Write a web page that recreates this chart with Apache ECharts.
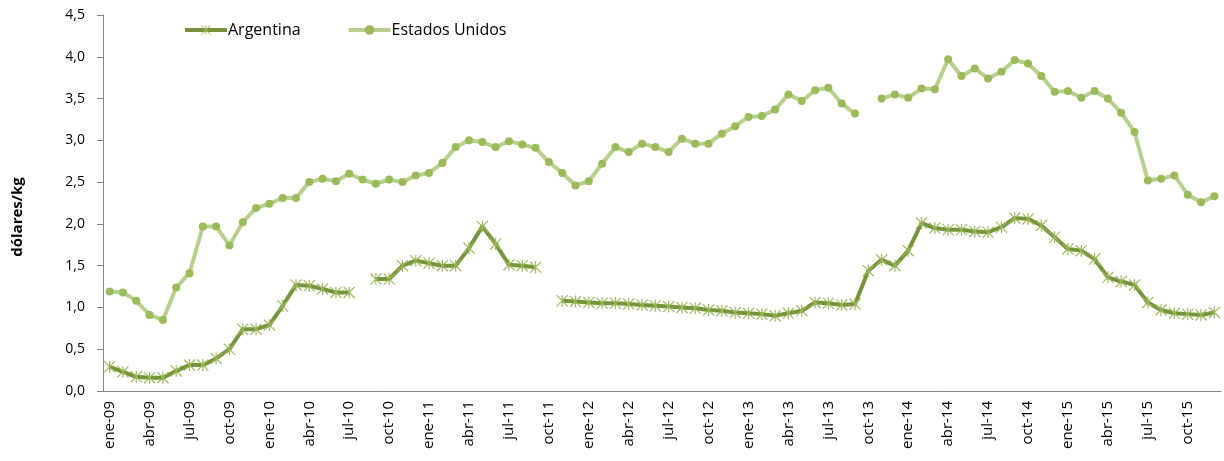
<!DOCTYPE html>
<html>
<head>
<meta charset="utf-8">
<script src="https://cdn.jsdelivr.net/npm/echarts@6/dist/echarts.min.js"></script>
<style>
  html, body { margin: 0; padding: 0; background: #fff; }
  #chart { width: 1224px; height: 461px; }
</style>
</head>
<body>
<div id="chart"></div>
<script>
const months = ['ene', 'feb', 'mar', 'abr', 'may', 'jun', 'jul', 'ago', 'sep', 'oct', 'nov', 'dic']
const years = ['09', '10', '11', '12', '13', '14', '15']

const argentina = [
  0.29, 0.23, 0.17, 0.16, 0.16, 0.24, 0.31, 0.31, 0.39, 0.50, 0.74, 0.74,
  0.79, 1.02, 1.27, 1.26, 1.22, 1.18, 1.18, null, 1.34, 1.34, 1.50, 1.56,
  1.53, 1.50, 1.50, 1.71, 1.97, 1.76, 1.51, 1.50, 1.48, null, 1.08, 1.07,
  1.06, 1.05, 1.05, 1.04, 1.03, 1.02, 1.01, 1.00, 0.99, 0.97, 0.96, 0.94,
  0.93, 0.92, 0.90, 0.93, 0.96, 1.06, 1.05, 1.03, 1.04, 1.44, 1.57, 1.50,
  1.68, 2.01, 1.95, 1.93, 1.93, 1.91, 1.90, 1.96, 2.07, 2.06, 1.98, 1.84,
  1.70, 1.68, 1.58, 1.36, 1.31, 1.27, 1.06, 0.97, 0.93, 0.92, 0.91, 0.94
]

const estadosUnidos = [
  1.19, 1.18, 1.08, 0.91, 0.85, 1.24, 1.41, 1.97, 1.97, 1.74, 2.02, 2.19,
  2.24, 2.31, 2.31, 2.50, 2.54, 2.51, 2.60, 2.53, 2.48, 2.53, 2.50, 2.58,
  2.61, 2.73, 2.92, 3.00, 2.98, 2.92, 2.99, 2.95, 2.91, 2.74, 2.61, 2.46,
  2.51, 2.72, 2.92, 2.86, 2.96, 2.92, 2.86, 3.02, 2.96, 2.96, 3.08, 3.17,
  3.28, 3.29, 3.37, 3.55, 3.47, 3.60, 3.63, 3.44, 3.32, null, 3.50, 3.55,
  3.51, 3.62, 3.61, 3.97, 3.77, 3.86, 3.74, 3.82, 3.96, 3.92, 3.77, 3.58,
  3.59, 3.51, 3.59, 3.50, 3.33, 3.10, 2.52, 2.54, 2.58, 2.35, 2.26, 2.33
]

let categories = []
for (let y of years) {
  for (let m of months) {
    categories.push(m + '-' + y)
  }
}

// asterisco tipo marcador de Excel
const starSymbol = 'path://M9,0H11V20H9Z M0,1.4L1.4,0L20,18.6L18.6,20Z M20,1.4L18.6,0L0,18.6L1.4,20Z'
const font = '"Open Sans", "Noto Sans", sans-serif'
const axisColor = '#868686'

const chart = echarts.init(document.getElementById('chart'))
chart.setOption({
  animation: false,
  textStyle: { fontFamily: font },
  grid: { left: 103, right: 3, top: 15, bottom: 70, containLabel: false },
  legend: {
    data: ['Argentina', 'Estados Unidos'],
    left: 178,
    top: 17,
    itemWidth: 42,
    itemHeight: 12,
    itemGap: 46,
    lineStyle: { width: 4 },
    textStyle: { fontSize: 16, color: '#000', fontFamily: font, padding: [0, 0, 0, -4] }
  },
  graphic: [{
    type: 'text',
    x: 18,
    y: 217,
    rotation: Math.PI / 2,
    style: {
      text: 'dólares/kg',
      font: 'bold 15px ' + font,
      fill: '#000',
      align: 'center',
      verticalAlign: 'middle'
    }
  }],
  xAxis: {
    type: 'category',
    data: categories,
    boundaryGap: true,
    axisLine: { lineStyle: { color: axisColor, width: 1 } },
    axisTick: { interval: 2, length: 6, lineStyle: { color: axisColor } },
    axisLabel: {
      interval: 2,
      rotate: 90,
      margin: 10,
      fontSize: 15,
      color: '#000',
      fontFamily: font
    },
    splitLine: { show: false }
  },
  yAxis: {
    type: 'value',
    min: 0,
    max: 4.5,
    interval: 0.5,
    axisLine: { show: true, lineStyle: { color: axisColor, width: 1 } },
    axisTick: { show: true, length: 6, lineStyle: { color: axisColor } },
    axisLabel: {
      margin: 18,
      fontSize: 14,
      color: '#000',
      fontFamily: font,
      formatter: v => v.toFixed(1).replace('.', ',')
    },
    splitLine: { show: false }
  },
  series: [
    {
      name: 'Argentina',
      type: 'line',
      data: argentina,
      symbol: starSymbol,
      symbolSize: 12,
      showAllSymbol: true,
      lineStyle: { color: '#77933c', width: 4 },
      itemStyle: { color: '#9bbb59' },
      z: 3
    },
    {
      name: 'Estados Unidos',
      type: 'line',
      data: estadosUnidos,
      symbol: 'circle',
      symbolSize: 8,
      showAllSymbol: true,
      lineStyle: { color: '#b7d08c', width: 4 },
      itemStyle: { color: '#9bbb59' },
      z: 2
    }
  ]
})
</script>
</body>
</html>
